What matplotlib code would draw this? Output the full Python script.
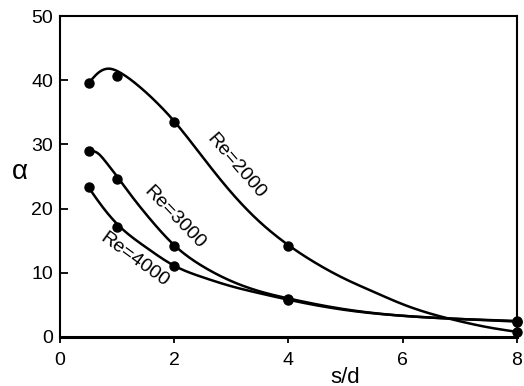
import numpy as np
import matplotlib
matplotlib.use('Agg')
import matplotlib.pyplot as plt

plt.rcParams['font.family'] = ['Liberation Sans', 'DejaVu Sans']

# measured points
sd = [0.5, 1, 2, 4, 8]
alpha_2000 = [39.5, 40.6, 33.5, 14.2, 0.7]
alpha_3000 = [29.0, 24.6, 14.1, 5.9, 2.5]
alpha_4000 = [23.3, 17.2, 11.1, 5.8, 2.4]

# fitted curves
fit_x_2000 = [0.5, 0.65, 0.85, 1.05, 1.35, 1.65, 2.0, 2.5, 3.0, 3.5, 4.0, 4.5, 5.0, 5.5, 6.0, 6.5, 7.0, 7.5, 8.0]
fit_y_2000 = [39.5, 41.0, 41.8, 41.2, 39.3, 36.9, 33.6, 28.0, 22.5, 17.9, 14.3, 11.4, 9.0, 7.0, 5.1, 3.6, 2.45, 1.5, 0.8]
fit_x_3000 = [0.5, 0.65, 0.8, 1.0, 1.25, 1.5, 1.75, 2.0, 2.5, 3.0, 3.5, 4.0, 5.0, 6.0, 7.0, 8.0]
fit_y_3000 = [29.0, 28.7, 27.3, 25.0, 22.0, 19.2, 16.6, 14.3, 11.0, 8.7, 7.1, 6.0, 4.3, 3.3, 2.8, 2.5]
fit_x_4000 = [0.5, 0.75, 1.0, 1.5, 2.0, 2.5, 3.0, 3.5, 4.0, 5.0, 6.0, 7.0, 8.0]
fit_y_4000 = [23.3, 20.2, 17.6, 14.0, 11.1, 9.3, 7.9, 6.8, 5.8, 4.2, 3.3, 2.8, 2.4]

labels = ['Re=2000', 'Re=3000', 'Re=4000']
label_xy = [(3.09, 26.6), (2.01, 18.6), (1.3, 12.0)]
label_rot = [-49, -46, -36]


def smooth(xs, ys, n=300):
    # natural cubic spline through the read-off curve points
    xs, ys = np.asarray(xs, float), np.asarray(ys, float)
    m = len(xs)
    h = np.diff(xs)
    A = np.zeros((m, m))
    r = np.zeros(m)
    A[0, 0] = A[-1, -1] = 1
    for i in range(1, m - 1):
        A[i, i - 1] = h[i - 1]
        A[i, i] = 2 * (h[i - 1] + h[i])
        A[i, i + 1] = h[i]
        r[i] = 3 * ((ys[i + 1] - ys[i]) / h[i] - (ys[i] - ys[i - 1]) / h[i - 1])
    c = np.linalg.solve(A, r)
    b = (ys[1:] - ys[:-1]) / h - h * (2 * c[:-1] + c[1:]) / 3
    d = (c[1:] - c[:-1]) / (3 * h)
    xx = np.linspace(xs[0], xs[-1], n)
    i = np.clip(np.searchsorted(xs, xx) - 1, 0, m - 2)
    t = xx - xs[i]
    return xx, ys[i] + b[i] * t + c[i] * t**2 + d[i] * t**3


fig = plt.figure(figsize=(5.24, 3.86), dpi=100)
ax = fig.add_axes([0.1145, 0.127, 0.872, 0.8315])

for fx, fy, pts in [(fit_x_2000, fit_y_2000, alpha_2000),
                    (fit_x_3000, fit_y_3000, alpha_3000),
                    (fit_x_4000, fit_y_4000, alpha_4000)]:
    xx, yy = smooth(fx, fy)
    ax.plot(xx, yy, color='black', lw=1.8, clip_on=False)
    ax.plot(sd, pts, 'o', color='black', ms=6.5, clip_on=False, zorder=5)

for lab, (lx, ly), rot in zip(labels, label_xy, label_rot):
    ax.text(lx, ly, lab, rotation=rot, fontsize=14, ha='center', va='center',
            rotation_mode='anchor')

ax.set_xlim(0, 8)
ax.set_ylim(0, 50)
ax.set_xticks([0, 2, 4, 6, 8])
ax.set_yticks([0, 10, 20, 30, 40, 50])
ax.tick_params(axis='x', direction='out', length=4, width=1.3, labelsize=14, pad=7)
ax.tick_params(axis='y', direction='in', length=6, width=1.3, labelsize=14, pad=5)
for s in ax.spines.values():
    s.set_linewidth(1.5)
ax.spines['bottom'].set_linewidth(2.2)

ax.set_xlabel('s/d', fontsize=16, va='top')
ax.xaxis.set_label_coords(0.624, -0.092)
ax.set_ylabel('α', fontsize=20, rotation=0, va='center', ha='center')
ax.yaxis.set_label_coords(-0.0875, 0.514)

fig.savefig('out.png', dpi=100)
